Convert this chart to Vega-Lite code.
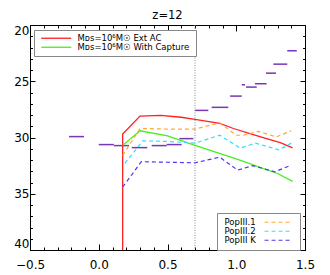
{
  "$schema": "https://vega.github.io/schema/vega-lite/v6.json",
  "width": 275,
  "height": 225,
  "autosize": {"type": "none"},
  "padding": {"left": 30, "top": 25, "right": 25, "bottom": 25},
  "background": "white",
  "title": {"text": "z=12", "font": "DejaVu Sans", "fontSize": 11.5, "fontWeight": "normal", "color": "black", "offset": 3},
  "config": {
    "view": {"stroke": "black", "strokeWidth": 1},
    "font": "DejaVu Sans"
  },
  "datasets": {
    "limits": [
      {"x": -0.216, "x2": -0.107, "y": 29.92},
      {"x": 0.0, "x2": 0.11, "y": 30.63},
      {"x": 0.11, "x2": 0.22, "y": 30.72},
      {"x": 0.24, "x2": 0.353, "y": 30.9},
      {"x": 0.385, "x2": 0.494, "y": 30.72},
      {"x": 0.494, "x2": 0.603, "y": 30.63},
      {"x": 0.586, "x2": 0.688, "y": 30.1},
      {"x": 0.70, "x2": 0.797, "y": 27.59},
      {"x": 0.821, "x2": 0.942, "y": 27.32},
      {"x": 0.955, "x2": 1.04, "y": 26.32},
      {"x": 1.04, "x2": 1.064, "y": 25.31},
      {"x": 1.071, "x2": 1.149, "y": 25.52},
      {"x": 1.136, "x2": 1.221, "y": 25.22},
      {"x": 1.216, "x2": 1.289, "y": 24.28},
      {"x": 1.27, "x2": 1.371, "y": 23.48},
      {"x": 1.371, "x2": 1.44, "y": 22.29}
    ],
    "solid": [
      {"model": "Mᴅꜱ=10⁶M☉  Ext AC", "i": 0, "x": 0.174, "y": 40},
      {"model": "Mᴅꜱ=10⁶M☉  Ext AC", "i": 1, "x": 0.174, "y": 29.7},
      {"model": "Mᴅꜱ=10⁶M☉  Ext AC", "i": 2, "x": 0.30, "y": 28.1},
      {"model": "Mᴅꜱ=10⁶M☉  Ext AC", "i": 3, "x": 0.45, "y": 28.03},
      {"model": "Mᴅꜱ=10⁶M☉  Ext AC", "i": 4, "x": 0.60, "y": 28.2},
      {"model": "Mᴅꜱ=10⁶M☉  Ext AC", "i": 5, "x": 0.70, "y": 28.38},
      {"model": "Mᴅꜱ=10⁶M☉  Ext AC", "i": 6, "x": 0.88, "y": 28.75},
      {"model": "Mᴅꜱ=10⁶M☉  Ext AC", "i": 7, "x": 0.98, "y": 29.2},
      {"model": "Mᴅꜱ=10⁶M☉  Ext AC", "i": 8, "x": 1.10, "y": 29.65},
      {"model": "Mᴅꜱ=10⁶M☉  Ext AC", "i": 9, "x": 1.22, "y": 30.1},
      {"model": "Mᴅꜱ=10⁶M☉  Ext AC", "i": 10, "x": 1.32, "y": 30.45},
      {"model": "Mᴅꜱ=10⁶M☉  Ext AC", "i": 11, "x": 1.41, "y": 30.93},
      {"model": "Mᴅꜱ=10⁶M☉  With Capture", "i": 0, "x": 0.174, "y": 30.7},
      {"model": "Mᴅꜱ=10⁶M☉  With Capture", "i": 1, "x": 0.30, "y": 29.4},
      {"model": "Mᴅꜱ=10⁶M☉  With Capture", "i": 2, "x": 0.50, "y": 29.85},
      {"model": "Mᴅꜱ=10⁶M☉  With Capture", "i": 3, "x": 0.70, "y": 30.7},
      {"model": "Mᴅꜱ=10⁶M☉  With Capture", "i": 4, "x": 1.00, "y": 31.9},
      {"model": "Mᴅꜱ=10⁶M☉  With Capture", "i": 5, "x": 1.30, "y": 33.2},
      {"model": "Mᴅꜱ=10⁶M☉  With Capture", "i": 6, "x": 1.41, "y": 33.9}
    ],
    "dashed": [
      {"pop": "PopIII.1", "i": 0, "x": 0.174, "y": 31.6},
      {"pop": "PopIII.1", "i": 1, "x": 0.30, "y": 29.2},
      {"pop": "PopIII.1", "i": 2, "x": 0.50, "y": 29.25},
      {"pop": "PopIII.1", "i": 3, "x": 0.70, "y": 29.25},
      {"pop": "PopIII.1", "i": 4, "x": 0.88, "y": 28.7},
      {"pop": "PopIII.1", "i": 5, "x": 1.00, "y": 29.8},
      {"pop": "PopIII.1", "i": 6, "x": 1.05, "y": 29.8},
      {"pop": "PopIII.1", "i": 7, "x": 1.16, "y": 29.45},
      {"pop": "PopIII.1", "i": 8, "x": 1.29, "y": 29.95},
      {"pop": "PopIII.1", "i": 9, "x": 1.40, "y": 29.4},
      {"pop": "PopIII.2", "i": 0, "x": 0.19, "y": 32.3},
      {"pop": "PopIII.2", "i": 1, "x": 0.32, "y": 30.3},
      {"pop": "PopIII.2", "i": 2, "x": 0.50, "y": 30.35},
      {"pop": "PopIII.2", "i": 3, "x": 0.70, "y": 30.5},
      {"pop": "PopIII.2", "i": 4, "x": 0.88, "y": 29.8},
      {"pop": "PopIII.2", "i": 5, "x": 1.03, "y": 30.95},
      {"pop": "PopIII.2", "i": 6, "x": 1.14, "y": 30.5},
      {"pop": "PopIII.2", "i": 7, "x": 1.31, "y": 31.1},
      {"pop": "PopIII.2", "i": 8, "x": 1.40, "y": 30.5},
      {"pop": "PopIII K", "i": 0, "x": 0.174, "y": 34.4},
      {"pop": "PopIII K", "i": 1, "x": 0.31, "y": 32.15},
      {"pop": "PopIII K", "i": 2, "x": 0.50, "y": 32.2},
      {"pop": "PopIII K", "i": 3, "x": 0.70, "y": 32.25},
      {"pop": "PopIII K", "i": 4, "x": 0.88, "y": 31.75},
      {"pop": "PopIII K", "i": 5, "x": 1.01, "y": 32.9},
      {"pop": "PopIII K", "i": 6, "x": 1.12, "y": 32.5},
      {"pop": "PopIII K", "i": 7, "x": 1.28, "y": 33.05},
      {"pop": "PopIII K", "i": 8, "x": 1.40, "y": 32.45}
    ],
    "divider": [{"x": 0.7}]
  },
  "layer": [
    {
      "data": {"name": "limits"},
      "mark": {"type": "rule", "color": "#7a35b8", "strokeWidth": 1.5},
      "encoding": {
        "x": {
          "field": "x", "type": "quantitative",
          "scale": {"domain": [-0.5, 1.5], "nice": false, "zero": false},
          "axis": {
            "orient": "bottom", "title": null, "grid": false, "domain": false,
            "values": [-0.5, -0.4, -0.3, -0.2, -0.1, 0, 0.1, 0.2, 0.3, 0.4, 0.5, 0.6, 0.7, 0.8, 0.9, 1, 1.1, 1.2, 1.3, 1.4, 1.5],
            "tickSize": {"condition": {"test": "abs(round(datum.value*10)) % 5 === 0", "value": -6}, "value": -3},
            "tickColor": "black",
            "labelExpr": "abs(round(datum.value*10)) % 5 === 0 ? format(datum.value, '.1f') : ''",
            "labelOverlap": false, "labelFlush": false,
            "labelFont": "DejaVu Sans", "labelFontSize": 12, "labelColor": "black", "labelPadding": 15
          }
        },
        "x2": {"field": "x2"},
        "y": {
          "field": "y", "type": "quantitative",
          "scale": {"domain": [20, 40], "reverse": true, "nice": false, "zero": false},
          "axis": {
            "orient": "left", "title": null, "grid": false, "domain": false,
            "values": [20, 21, 22, 23, 24, 25, 26, 27, 28, 29, 30, 31, 32, 33, 34, 35, 36, 37, 38, 39, 40],
            "tickSize": {"condition": {"test": "datum.value % 5 === 0", "value": -5}, "value": -2.5},
            "tickColor": "black",
            "labelExpr": "datum.value % 5 === 0 ? format(datum.value, 'd') : ''",
            "labelOverlap": false, "labelFlush": true,
            "labelFont": "DejaVu Sans", "labelFontSize": 12, "labelColor": "black", "labelPadding": 6
          }
        }
      }
    },
    {
      "data": {"name": "solid"},
      "mark": {"type": "line", "strokeWidth": 1.3},
      "encoding": {
        "x": {
          "field": "x", "type": "quantitative",
          "axis": {
            "orient": "top", "title": null, "grid": false, "domain": false, "labels": false,
            "values": [-0.5, -0.4, -0.3, -0.2, -0.1, 0, 0.1, 0.2, 0.3, 0.4, 0.5, 0.6, 0.7, 0.8, 0.9, 1, 1.1, 1.2, 1.3, 1.4, 1.5],
            "tickSize": {"condition": {"test": "abs(round(datum.value*10)) % 5 === 0", "value": -6}, "value": -3},
            "tickColor": "black"
          }
        },
        "y": {
          "field": "y", "type": "quantitative",
          "axis": {
            "orient": "right", "title": null, "grid": false, "domain": false, "labels": false,
            "values": [20, 21, 22, 23, 24, 25, 26, 27, 28, 29, 30, 31, 32, 33, 34, 35, 36, 37, 38, 39, 40],
            "tickSize": {"condition": {"test": "datum.value % 5 === 0", "value": -5}, "value": -2.5},
            "tickColor": "black"
          }
        },
        "order": {"field": "i"},
        "color": {
          "field": "model", "type": "nominal",
          "scale": {"domain": ["Mᴅꜱ=10⁶M☉  Ext AC", "Mᴅꜱ=10⁶M☉  With Capture"], "range": ["#ff2020", "#44ee22"]},
          "legend": {
            "title": null, "orient": "none", "legendX": 4, "legendY": 5,
            "fillColor": "white", "strokeColor": "#888888", "padding": 4,
            "symbolType": "M-5,0H5", "symbolSize": 36, "symbolStrokeWidth": 1.3,
            "symbolOffset": 14, "labelOffset": 17, "rowPadding": -6,
            "labelFont": "DejaVu Sans", "labelFontSize": 8.5, "labelColor": "black"
          }
        }
      }
    },
    {
      "data": {"name": "dashed"},
      "mark": {"type": "line", "strokeWidth": 1.2, "strokeDash": [4, 3]},
      "encoding": {
        "x": {"field": "x", "type": "quantitative", "axis": null},
        "y": {"field": "y", "type": "quantitative", "axis": null},
        "order": {"field": "i"},
        "color": {
          "field": "pop", "type": "nominal",
          "scale": {"domain": ["PopIII.1", "PopIII.2", "PopIII K"], "range": ["#ffaa33", "#33ddff", "#5533ee"]},
          "legend": {
            "title": null, "orient": "none", "legendX": 187, "legendY": 188,
            "fillColor": "white", "strokeColor": "#888888", "padding": 5,
            "symbolType": "M-5,0H5", "symbolSize": 30, "symbolStrokeWidth": 1.2, "symbolDash": [4, 3],
            "symbolOffset": 52, "labelOffset": -58, "rowPadding": -4,
            "labelFont": "DejaVu Sans", "labelFontSize": 8.5, "labelColor": "black"
          }
        }
      }
    },
    {
      "data": {"name": "divider"},
      "mark": {"type": "rule", "color": "#888888", "strokeDash": [1, 1.5], "strokeWidth": 1},
      "encoding": {
        "x": {"field": "x", "type": "quantitative", "axis": null}
      }
    },
    {
      "mark": {"type": "text", "text": "JWST detection limits", "font": "DejaVu Sans", "fontSize": 8.8, "color": "#555555", "align": "center", "baseline": "middle"},
      "encoding": {
        "x": {"datum": 1.096, "type": "quantitative", "axis": null},
        "y": {"datum": 21.29, "type": "quantitative", "axis": null}
      }
    },
    {
      "mark": {"type": "text", "text": "NIRCam", "font": "DejaVu Sans", "fontSize": 9.5, "color": "black", "align": "right", "baseline": "middle"},
      "encoding": {
        "x": {"datum": 0.642, "type": "quantitative", "axis": null},
        "y": {"datum": 25.0, "type": "quantitative", "axis": null}
      }
    },
    {
      "mark": {"type": "text", "text": "MIRI", "font": "DejaVu Sans", "fontSize": 9.5, "color": "black", "align": "left", "baseline": "middle"},
      "encoding": {
        "x": {"datum": 0.722, "type": "quantitative", "axis": null},
        "y": {"datum": 25.0, "type": "quantitative", "axis": null}
      }
    }
  ],
  "resolve": {
    "scale": {"color": "independent"},
    "axis": {"x": "independent", "y": "independent"}
  }
}
